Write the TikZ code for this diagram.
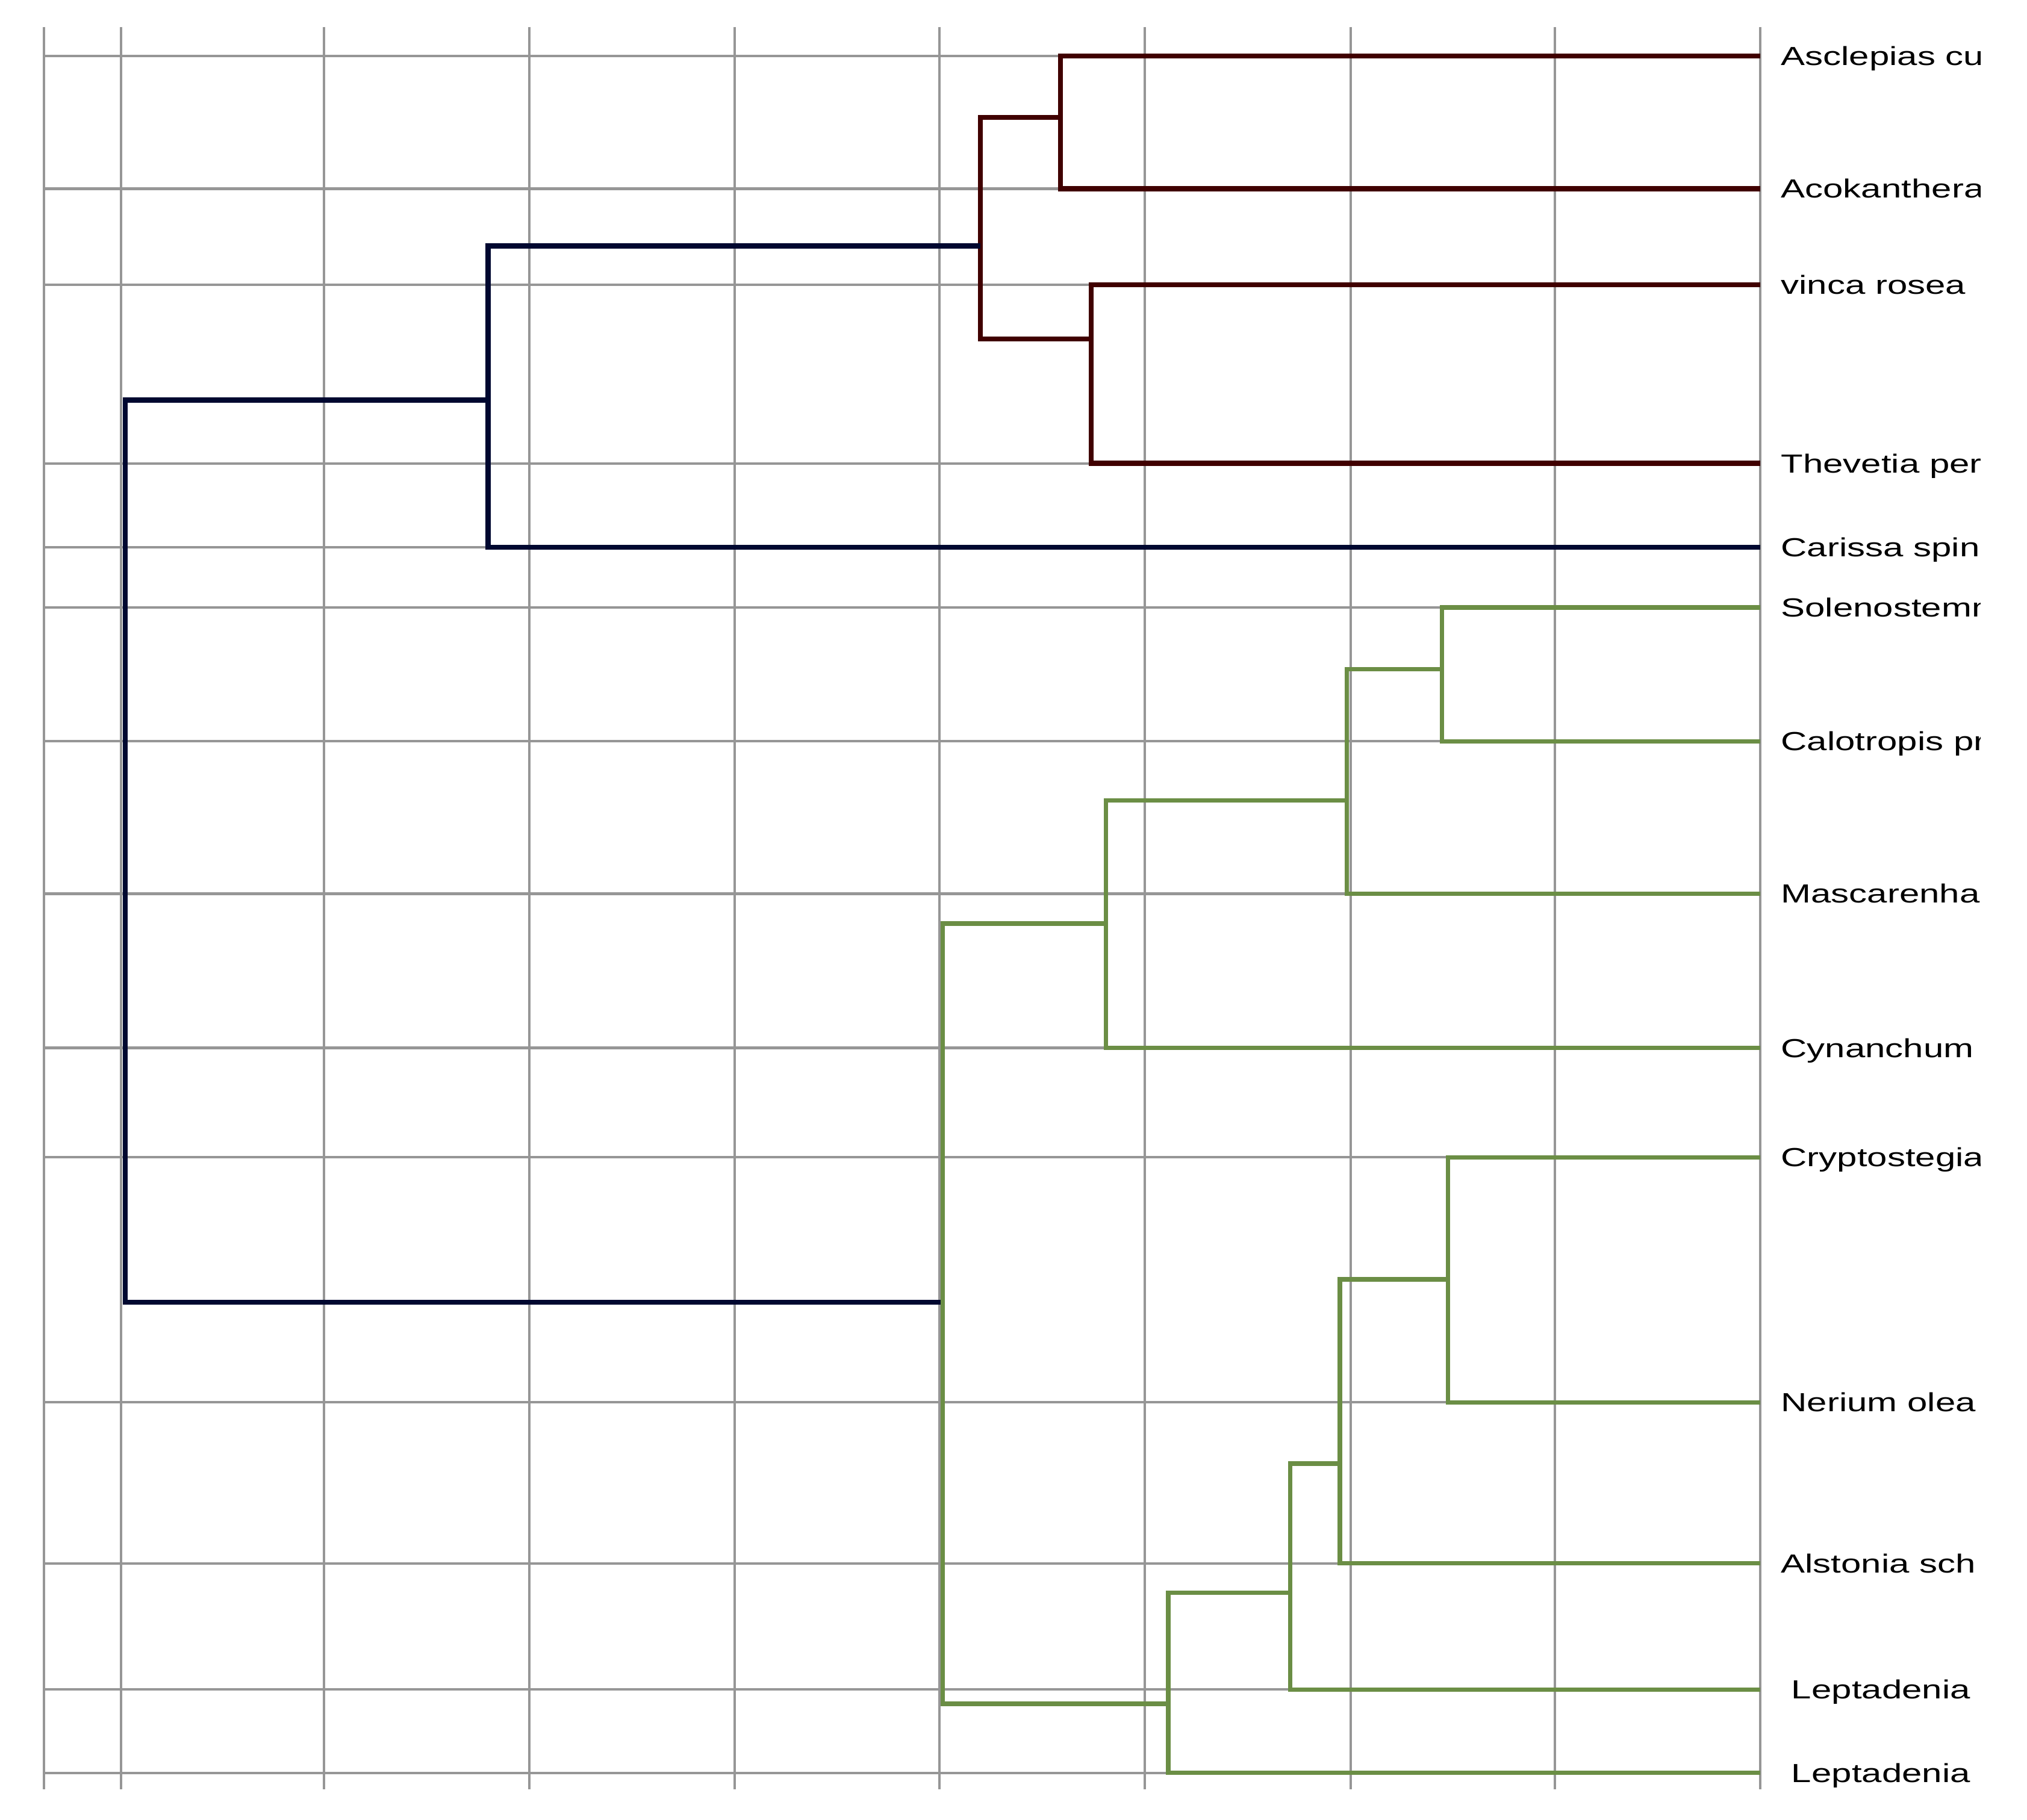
\documentclass[tikz,border=0pt]{standalone}
\usepackage{fontspec}
\newfontfamily\leaffont[FakeStretch=1.38]{Liberation Sans}
\usepackage{tikz}
\usetikzlibrary{positioning}

\definecolor{treered}{HTML}{400000}
\definecolor{treenavy}{HTML}{000830}
\definecolor{treegreen}{HTML}{6B8E45}
\definecolor{gridgray}{HTML}{969696}

\begin{document}
\begin{tikzpicture}[x=0.01cm, y=-0.01cm, inner sep = 0pt,
    gridline/.style={gridgray, line width=0.55pt},
    redlink/.style={treered, line width=1.1pt},
    navylink/.style={treenavy, line width=1.1pt},
    greenlink/.style={treegreen, line width=0.95pt},
    leaf/.style={anchor=base west, yshift=-2.05pt,
      font={\leaffont\fontsize{5.76}{7}\selectfont}},
    leafc/.style={leaf, anchor=base}]
    \useasboundingbox (0,0) rectangle (1568,1408);

    % grid
    \foreach \gx in {34.2, 93.6, 250.5, 409.5, 568.5, 726.6, 885.6, 1044.8, 1202.8, 1361.6}
      \draw[gridline] (\gx, 20.8) -- (\gx, 1384.3);
    \foreach \gy in {43.3, 146, 220.2, 358.5, 423.5, 470, 573.5, 691.5, 810.8, 895.4, 1085, 1209.6, 1307.2, 1371.8}
      \draw[gridline] (34.2, \gy) -- (1361.6, \gy);

    % leaves
    \coordinate (asc) at (1361.6, 43.3);
    \coordinate (aco) at (1361.6, 146);
    \coordinate (vin) at (1361.6, 220.2);
    \coordinate (the) at (1361.6, 358.5);
    \coordinate (car) at (1361.6, 423.5);
    \coordinate (sol) at (1361.6, 470);
    \coordinate (cal) at (1361.6, 573.5);
    \coordinate (mas) at (1361.6, 691.5);
    \coordinate (cyn) at (1361.6, 810.8);
    \coordinate (cry) at (1361.6, 895.4);
    \coordinate (ner) at (1361.6, 1085);
    \coordinate (als) at (1361.6, 1209.6);
    \coordinate (lepa) at (1361.6, 1307.2);
    \coordinate (lepb) at (1361.6, 1371.8);

    % joins
    \coordinate (a1) at (820.3, 90.9);
    \coordinate (a2) at (844, 262.4);
    \coordinate (a3) at (758.5, 190.3);
    \coordinate (a4) at (377.6, 309.5);
    \coordinate (g1) at (1115.3, 517.8);
    \coordinate (g2) at (1041.9, 619.3);
    \coordinate (g3) at (855.6, 714.6);
    \coordinate (g4) at (1120, 989.9);
    \coordinate (g5) at (1036.5, 1132.4);
    \coordinate (g6) at (998.2, 1232.4);
    \coordinate (g7) at (903.7, 1318.3);
    \coordinate (g8) at (729.4, 1007.6);
    \coordinate (root) at (96.9, 660);

    \draw[redlink] (a1) |- (asc);
    \draw[redlink] (a1) |- (aco);
    \draw[redlink] (a2) |- (vin);
    \draw[redlink] (a2) |- (the);
    \draw[redlink] (a3) |- (a1);
    \draw[redlink] (a3) |- (a2);

    \draw[navylink] (a4) |- (a3);
    \draw[navylink] (a4) |- (car);
    \draw[navylink] (root) |- (a4);
    \draw[navylink] (root) |- (g8);

    \draw[greenlink] (g1) |- (sol);
    \draw[greenlink] (g1) |- (cal);
    \draw[greenlink] (g2) |- (g1);
    \draw[greenlink] (g2) |- (mas);
    \draw[greenlink] (g3) |- (g2);
    \draw[greenlink] (g3) |- (cyn);
    \draw[greenlink] (g4) |- (cry);
    \draw[greenlink] (g4) |- (ner);
    \draw[greenlink] (g5) |- (g4);
    \draw[greenlink] (g5) |- (als);
    \draw[greenlink] (g6) |- (g5);
    \draw[greenlink] (g6) |- (lepa);
    \draw[greenlink] (g7) |- (g6);
    \draw[greenlink] (g7) |- (lepb);
    \draw[greenlink] (g8) |- (g3);
    \draw[greenlink] (g8) |- (g7);

    % labels, cut at the right edge
    \begin{scope}
      \clip (1366,0) rectangle (1532,1408);
      \node[leaf] at (1377, 43.3) (lasc) {Asclepias cu};
      \node[leaf] at (1377, 146) (laco) {Acokanthera};
      \node[leaf] at (1377, 220.2) (lvin) {vinca rosea};
      \node[leaf] at (1377, 358.5) (lthe) {Thevetia per};
      \node[leaf] at (1377, 423.5) (lcar) {Carissa spin};
      \node[leaf] at (1377, 470) (lsol) {Solenostemm};
      \node[leaf] at (1377, 573.5) (lcal) {Calotropis pr};
      \node[leaf] at (1377, 691.5) (lmas) {Mascarenha};
      \node[leaf] at (1377, 810.8) (lcyn) {Cynanchum};
      \node[leaf] at (1377, 895.4) (lcry) {Cryptostegia};
      \node[leaf] at (1377, 1085) (lner) {Nerium olea};
      \node[leaf] at (1377, 1209.6) (lals) {Alstonia sch};
      \node[leafc] at (1455, 1307.2) (llepa) {Leptadenia};
      \node[leafc] at (1455, 1371.8) (llepb) {Leptadenia};
    \end{scope}
\end{tikzpicture}
\end{document}
